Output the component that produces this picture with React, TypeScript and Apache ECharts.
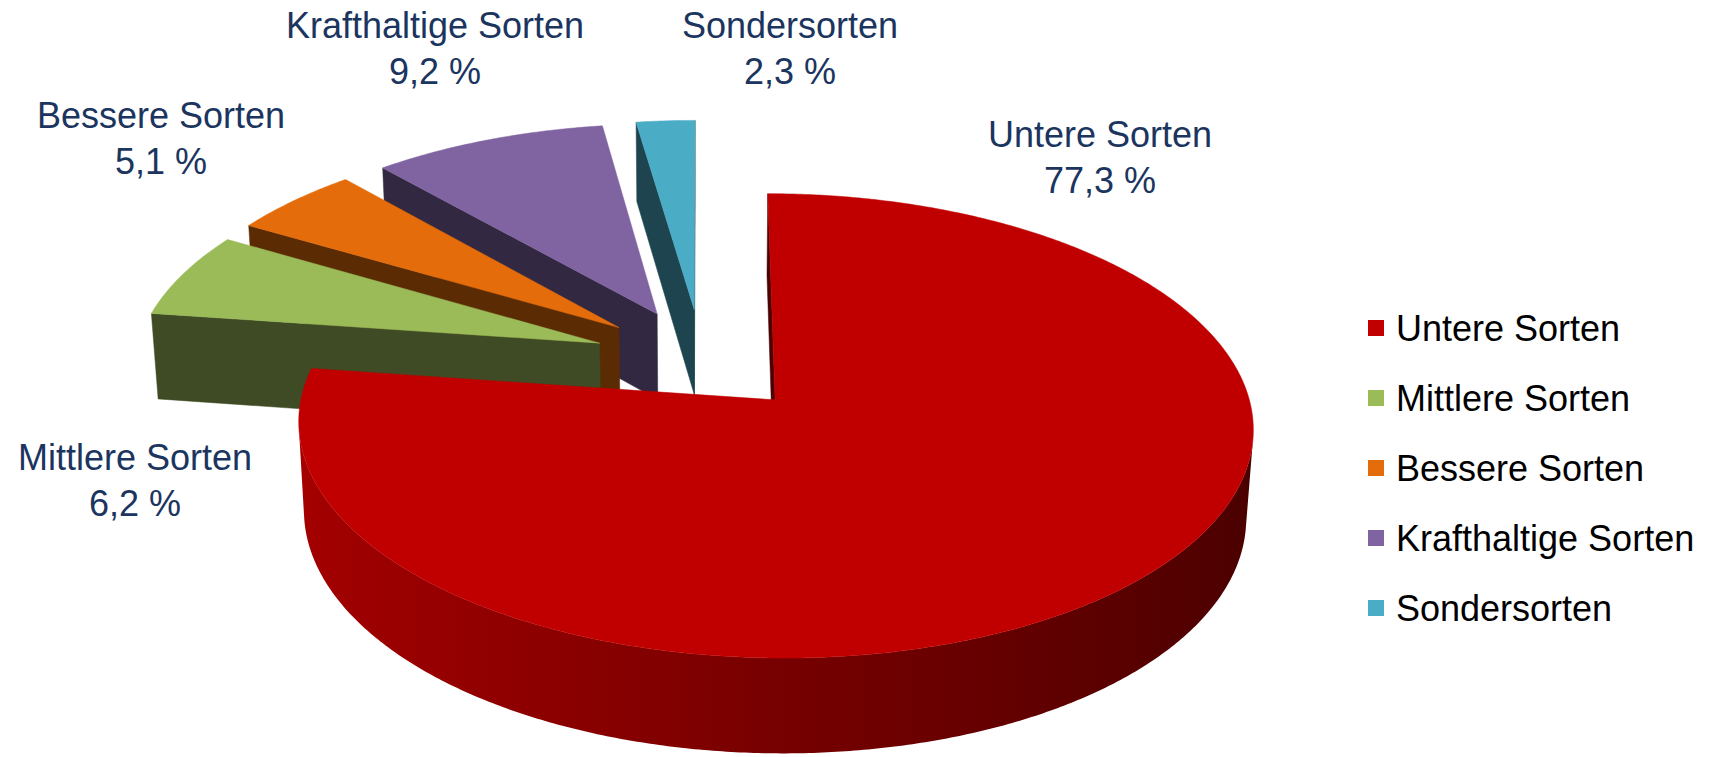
import React, { useEffect, useRef } from "react";
import * as echarts from "echarts";

// ---------------- data ----------------
const CATEGORIES = [
  "Untere Sorten",
  "Mittlere Sorten",
  "Bessere Sorten",
  "Krafthaltige Sorten",
  "Sondersorten",
];
const SHARES = [77.3, 6.2, 5.1, 9.2, 2.3];

// ---------------- styles / layout ----------------
const COLORS = ["#C00000", "#9BBB59", "#E46C0A", "#8064A2", "#4BACC6"];
const LABEL_COLOR = "#1B355F";
const FONT = "'Liberation Sans', Arial, sans-serif";
// label anchor points (px) for the data labels, like Excel's "best fit"
const LABEL_POS = [
  [1100, 157],
  [135, 480],
  [161, 138],
  [435, 48],
  [790, 48],
];
// 3D view of the pie (radius = 1 world unit)
const VIEW = {
  cx: 702,
  cy: 360,
  F: 465,
  sinT: 0.474,
  D: 8.02,
  explode: 0.235,
  thick: 0.215,
};
const COS_T = Math.sqrt(1 - VIEW.sinT * VIEW.sinT);
const CAM = [0, -VIEW.D * COS_T, VIEW.D * VIEW.sinT];

function proj(X: number, Y: number, z: number): number[] {
  const depth = 1 + (Y * COS_T - z * VIEW.sinT) / VIEW.D;
  return [
    VIEW.cx + (VIEW.F * X) / depth,
    VIEW.cy - (VIEW.F * (Y * VIEW.sinT + z * COS_T)) / depth,
  ];
}
function facing(n: number[], p: number[]): boolean {
  return (
    n[0] * (CAM[0] - p[0]) + n[1] * (CAM[1] - p[1]) + n[2] * (CAM[2] - p[2]) > 0
  );
}
function shade(hex: string, f: number): string {
  const n = parseInt(hex.slice(1), 16);
  const r = Math.round(((n >> 16) & 255) * f);
  const g = Math.round(((n >> 8) & 255) * f);
  const b = Math.round((n & 255) * f);
  return `rgb(${r},${g},${b})`;
}

function sliceAngles() {
  const total = SHARES.reduce((a, b) => a + b, 0);
  const out: { ts: number; te: number; tm: number; ax: number; ay: number }[] = [];
  let acc = 0;
  for (let i = 0; i < SHARES.length; i++) {
    const ts = (acc / total) * Math.PI * 2;
    acc += SHARES[i];
    const te = (acc / total) * Math.PI * 2;
    const tm = (ts + te) / 2;
    out.push({
      ts,
      te,
      tm,
      ax: VIEW.explode * Math.sin(tm),
      ay: VIEW.explode * Math.cos(tm),
    });
  }
  return out;
}

function renderItem(params: any, api: any) {
  const i = params.dataIndex;
  const value = api.value(0);
  const all = sliceAngles();
  const order = all
    .map((s, k) => ({ k, ay: s.ay }))
    .sort((a, b) => b.ay - a.ay)
    .map((o) => o.k);
  const rank = order.indexOf(i);
  const base = rank * 10;
  const { ts, te, ax, ay } = all[i];
  const h = VIEW.thick;
  const color = COLORS[i];
  const apex = (z: number) => proj(ax, ay, z);
  const outer = (t: number, z: number) =>
    proj(ax + Math.sin(t), ay + Math.cos(t), z);
  const children: any[] = [];

  // radial faces
  const nS = [-Math.cos(ts), Math.sin(ts), 0];
  if (facing(nS, [ax, ay, 0])) {
    children.push({
      type: "polygon",
      z2: base + 1,
      shape: { points: [apex(0), outer(ts, 0), outer(ts, -h), apex(-h)] },
      style: { fill: shade(color, 0.4), stroke: shade(color, 0.4), lineWidth: 0.5 },
    });
  }
  const nE = [Math.cos(te), -Math.sin(te), 0];
  if (facing(nE, [ax, ay, 0])) {
    children.push({
      type: "polygon",
      z2: base + 1,
      shape: { points: [apex(0), outer(te, 0), outer(te, -h), apex(-h)] },
      style: { fill: shade(color, 0.4), stroke: shade(color, 0.4), lineWidth: 0.5 },
    });
  }

  // outer curved side, split into visible runs
  const steps = Math.max(4, Math.ceil(((te - ts) * 180) / Math.PI * 2));
  const dt = (te - ts) / steps;
  let run: number[] = [];
  const runs: number[][] = [];
  for (let k = 0; k < steps; k++) {
    const tmid = ts + (k + 0.5) * dt;
    const n = [Math.sin(tmid), Math.cos(tmid), 0];
    const p = [ax + Math.sin(tmid), ay + Math.cos(tmid), 0];
    if (facing(n, p)) {
      run.push(k);
    } else if (run.length) {
      runs.push(run);
      run = [];
    }
  }
  if (run.length) runs.push(run);
  runs.forEach((r) => {
    const k0 = r[0];
    const k1 = r[r.length - 1] + 1;
    const topPts: number[][] = [];
    const botPts: number[][] = [];
    const ang: number[] = [];
    for (let k = k0; k <= k1; k++) {
      const t = ts + k * dt;
      topPts.push(outer(t, 0));
      botPts.push(outer(t, -h));
      ang.push(t);
    }
    const pts = topPts.concat(botPts.slice().reverse());
    const xs = pts.map((p) => p[0]);
    const minX = Math.min(...xs);
    const maxX = Math.max(...xs);
    const stops: { offset: number; color: string }[] = [];
    const every = Math.max(1, Math.floor(ang.length / 24));
    for (let k = 0; k < ang.length; k += every) {
      const off = maxX > minX ? (topPts[k][0] - minX) / (maxX - minX) : 0;
      stops.push({
        offset: Math.min(1, Math.max(0, off)),
        color: shade(color, 0.62 - 0.24 * Math.sin(ang[k])),
      });
    }
    const last = ang.length - 1;
    stops.push({
      offset: Math.min(1, Math.max(0, (topPts[last][0] - minX) / (maxX - minX || 1))),
      color: shade(color, 0.62 - 0.24 * Math.sin(ang[last])),
    });
    stops.sort((a, b) => a.offset - b.offset);
    children.push({
      type: "polygon",
      z2: base + 2,
      shape: { points: pts },
      style: {
        fill: new echarts.graphic.LinearGradient(0, 0, 1, 0, stops),
      },
    });
  });

  // top face
  const topFace: number[][] = [apex(0)];
  for (let k = 0; k <= steps; k++) topFace.push(outer(ts + k * dt, 0));
  children.push({
    type: "polygon",
    z2: base + 5,
    shape: { points: topFace },
    style: { fill: color, stroke: color, lineWidth: 0.5 },
  });

  // data label
  const pos = LABEL_POS[i];
  children.push({
    type: "text",
    z2: 200,
    x: pos[0],
    y: pos[1],
    style: {
      text: `${CATEGORIES[i]}\n${value.toFixed(1).replace(".", ",")} %`,
      fill: LABEL_COLOR,
      fontSize: 36,
      fontFamily: FONT,
      align: "center",
      verticalAlign: "middle",
      lineHeight: 46,
    },
  });

  return { type: "group", children };
}

export default function App() {
  const ref = useRef<HTMLDivElement>(null);
  useEffect(() => {
    if (!ref.current) return;
    const chart = echarts.init(ref.current, undefined, { renderer: "svg" });
    chart.setOption({
      animation: false,
      backgroundColor: "#ffffff",
      legend: {
        data: CATEGORIES,
        orient: "vertical",
        left: 1363,
        top: 303,
        icon: "rect",
        itemWidth: 16,
        itemHeight: 16,
        itemGap: 30,
        selectedMode: false,
        textStyle: {
          fontSize: 36,
          fontFamily: FONT,
          color: "#000000",
          lineHeight: 40,
          padding: [0, 0, 0, 7],
        },
      },
      series: [
        {
          type: "custom",
          coordinateSystem: "none",
          renderItem,
          data: SHARES.map((v) => [v]),
          silent: true,
        },
        {
          // invisible pie that feeds the legend
          type: "pie",
          center: [-200, -200],
          radius: 1,
          silent: true,
          label: { show: false },
          labelLine: { show: false },
          data: CATEGORIES.map((name, k) => ({
            name,
            value: SHARES[k],
            itemStyle: { color: COLORS[k] },
          })),
        },
      ],
    });
    return () => chart.dispose();
  }, []);
  return (
    <div
      ref={ref}
      style={{ position: "fixed", left: 0, top: 0, width: 1721, height: 757 }}
    />
  );
}
